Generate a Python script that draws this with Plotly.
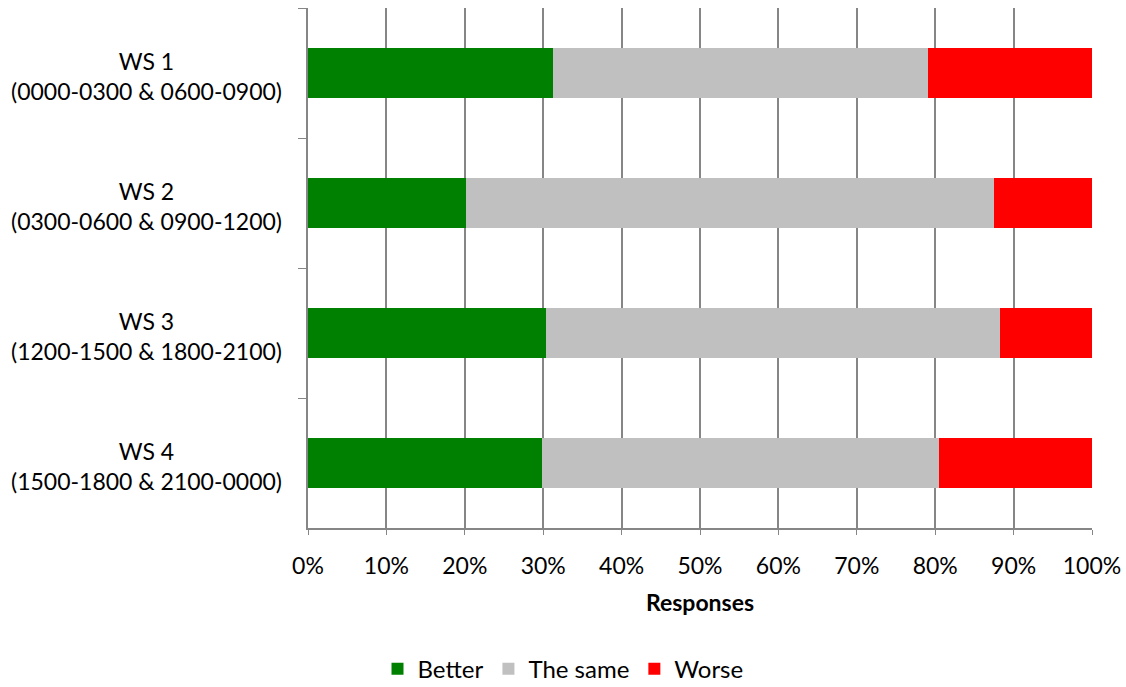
import plotly.graph_objects as go

categories = ["WS 1", "WS 2", "WS 3", "WS 4"]
subtitles = ["(0000-0300 & 0600-0900)", "(0300-0600 & 0900-1200)",
             "(1200-1500 & 1800-2100)", "(1500-1800 & 2100-0000)"]
better = [31.3, 20.1, 30.4, 29.8]
same = [47.8, 67.4, 57.9, 50.7]
worse = [20.9, 12.5, 11.7, 19.5]
tick_vals = [0, 10, 20, 30, 40, 50, 60, 70, 80, 90, 100]
tick_text = ["0%", "10%", "20%", "30%", "40%", "50%", "60%", "70%", "80%", "90%", "100%"]

FONT = "Lato"
FS = 23

fig = go.Figure()
for name, vals, col in [("Better", better, "#008000"),
                        ("The same", same, "#C0C0C0"),
                        ("Worse", worse, "#FF0000")]:
    fig.add_trace(go.Bar(y=categories, x=vals, name=name, orientation="h",
                         marker=dict(color=col, line=dict(width=0))))

for c, s in zip(categories, subtitles):
    fig.add_annotation(x=0, xref="paper", y=c, yref="y", xanchor="right",
                       xshift=-24, yshift=-3, text=c + "<br>" + s, showarrow=False,
                       align="center", font=dict(family=FONT, size=FS, color="#000"))

fig.update_layout(
    barmode="stack", bargap=0.615,
    width=1126, height=687,
    margin=dict(l=308, r=34, t=8, b=159),
    plot_bgcolor="white", paper_bgcolor="white",
    font=dict(family=FONT, size=FS, color="#000"),
    legend=dict(orientation="h", x=0.5, xanchor="center", xref="container",
                y=0.026, yref="container", yanchor="middle",
                font=dict(family=FONT, size=24), traceorder="normal",
                itemwidth=30),
    showlegend=True,
)
fig.update_xaxes(range=[0, 100], tickvals=tick_vals, ticktext=tick_text,
                 automargin=False,
                 showgrid=True, gridcolor="#868686", gridwidth=1.5,
                 showline=True, linecolor="#868686", linewidth=1.5,
                 ticks="outside", ticklen=5, tickcolor="#868686",
                 ticklabelstandoff=12,
                 tickfont=dict(family=FONT, size=FS),
                 title=dict(text="<b>Responses</b>", font=dict(family=FONT, size=FS), standoff=17),
                 zeroline=False)
fig.update_yaxes(autorange="reversed", showticklabels=False, automargin=False,
                 showline=True, linecolor="#868686", linewidth=1.5,
                 ticks="outside", ticklen=8, tickcolor="#868686", tickson="boundaries",
                 showgrid=False)

fig.write_html("out.html")
